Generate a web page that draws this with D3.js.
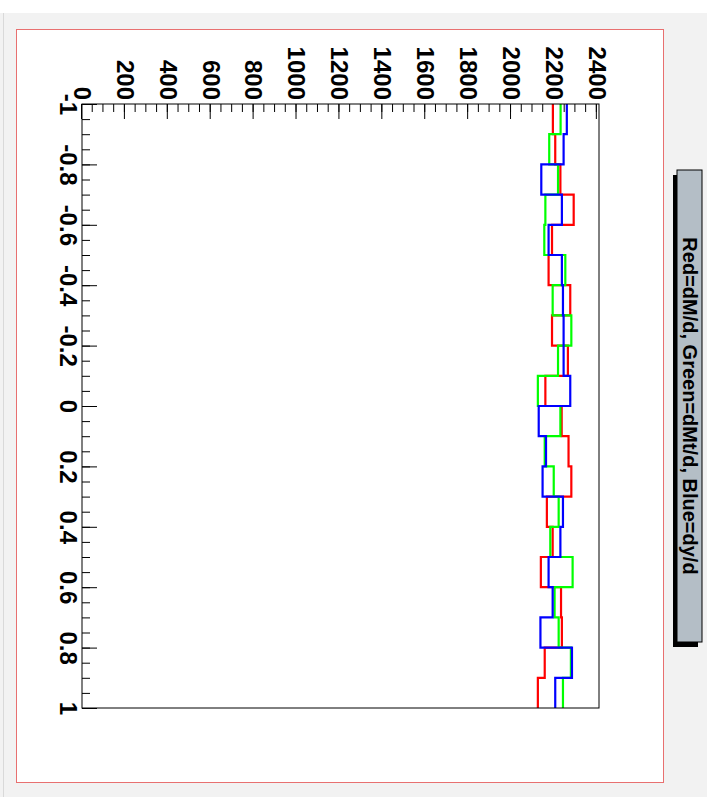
<!DOCTYPE html>
<html>
<head>
<meta charset="utf-8">
<script src="https://d3js.org/d3.v7.min.js"></script>
<style>
  body { margin: 0; background: #fff; }
  svg { display: block; font-family: "Liberation Sans", Arial, Helvetica, sans-serif; }
  .axis text { font-size: 24px; font-weight: bold; fill: #000; }
  .axis line { stroke: #000; }
</style>
</head>
<body>
<script>
  // data: 20 bins from -1 to 1
  var binLow = [-1, -0.9, -0.8, -0.7, -0.6, -0.5, -0.4, -0.3, -0.2, -0.1,
                0, 0.1, 0.2, 0.3, 0.4, 0.5, 0.6, 0.7, 0.8, 0.9];
  var binHigh = 1;
  var redVals   = [2195, 2206, 2230, 2292, 2191, 2175, 2276, 2191, 2265, 2160,
                   2236, 2268, 2281, 2167, 2194, 2139, 2233, 2237, 2157, 2125];
  var greenVals = [2231, 2178, 2219, 2160, 2155, 2253, 2194, 2281, 2219, 2125,
                   2230, 2157, 2199, 2222, 2183, 2287, 2203, 2222, 2279, 2242];
  var blueVals  = [2260, 2245, 2141, 2237, 2175, 2237, 2242, 2245, 2245, 2276,
                   2129, 2163, 2147, 2242, 2230, 2175, 2194, 2137, 2284, 2206];
  var xTicks = [-1, -0.8, -0.6, -0.4, -0.2, 0, 0.2, 0.4, 0.6, 0.8, 1];
  var yTicks = [0, 200, 400, 600, 800, 1000, 1200, 1400, 1600, 1800, 2000, 2200, 2400];
  var yMax = 2410;
  var title = "Red=dM/d, Green=dMt/d, Blue=dy/d";

  var width = 707, height = 797;
  var svg = d3.select('body').append('svg')
    .attr('width', width)
    .attr('height', height);

  // window / canvas background
  svg.append('rect')
    .attr('x', 0).attr('y', 13)
    .attr('width', width).attr('height', height - 13)
    .attr('fill', '#f2f2f2');
  svg.append('line')
    .attr('x1', 3.5).attr('x2', 3.5).attr('y1', 13).attr('y2', height)
    .attr('stroke', '#d9d9d9');
  // pad
  svg.append('rect')
    .attr('x', 16.5).attr('y', 29.5)
    .attr('width', 647).attr('height', 753)
    .attr('fill', '#fff')
    .attr('stroke', '#e87070');

  // the ROOT canvas is turned 90 degrees clockwise
  var g = svg.append('g').attr('transform', 'translate(' + width + ',0) rotate(90)');

  var frame = {left: 104, right: 708, top: 108, bottom: 625};
  var x = d3.scaleLinear().domain([-1, 1]).range([frame.left, frame.right]);
  var y = d3.scaleLinear().domain([0, yMax]).range([frame.bottom, frame.top]);

  // axes (ticks point inward)
  var xMinor = d3.range(0, 41).map(i => -1 + i * 0.05);
  g.append('g').attr('class', 'axis')
    .attr('transform', 'translate(0,' + frame.bottom + ')')
    .call(d3.axisBottom(x).tickValues(xMinor).tickSizeInner(-8).tickSizeOuter(0).tickFormat(''));
  g.append('g').attr('class', 'axis')
    .attr('transform', 'translate(0,' + frame.bottom + ')')
    .call(d3.axisBottom(x).tickValues(xTicks).tickSizeInner(-15).tickSizeOuter(0)
      .tickPadding(5).tickFormat(d => String(+d.toFixed(1))));

  var yMinor = d3.range(0, 49).map(i => i * 50);
  g.append('g').attr('class', 'axis')
    .attr('transform', 'translate(' + frame.left + ',0)')
    .call(d3.axisLeft(y).tickValues(yMinor).tickSizeInner(-8).tickSizeOuter(0).tickFormat(''));
  g.append('g').attr('class', 'axis')
    .attr('transform', 'translate(' + frame.left + ',0)')
    .call(d3.axisLeft(y).tickValues(yTicks).tickSizeInner(-15).tickSizeOuter(0)
      .tickPadding(4).tickFormat(d => String(d)));
  g.selectAll('.axis .domain').remove();

  // histograms
  var line = d3.line()
    .x(d => x(d[0]))
    .y(d => y(d[1]))
    .curve(d3.curveStepAfter);

  function histPoints(vals) {
    var pts = binLow.map((b, i) => [b, vals[i]]);
    pts.push([binHigh, vals[vals.length - 1]]);
    return pts;
  }

  [[redVals, '#ff0000'], [greenVals, '#00ff00'], [blueVals, '#0000ff']].forEach(function(s) {
    g.append('path')
      .attr('d', line(histPoints(s[0])))
      .attr('fill', 'none')
      .attr('stroke', s[1])
      .attr('stroke-width', 2.2);
  });

  // frame
  g.append('rect')
    .attr('x', frame.left).attr('y', frame.top)
    .attr('width', frame.right - frame.left)
    .attr('height', frame.bottom - frame.top)
    .attr('fill', 'none')
    .attr('stroke', '#000');

  // title box with shadow
  var tb = {x: 170, y: 5, w: 472, h: 25};
  g.append('rect')
    .attr('x', tb.x + 5).attr('y', tb.y + 4)
    .attr('width', tb.w).attr('height', tb.h)
    .attr('fill', '#000');
  g.append('rect')
    .attr('x', tb.x).attr('y', tb.y)
    .attr('width', tb.w).attr('height', tb.h)
    .attr('fill', '#b4bec6')
    .attr('stroke', '#000');
  g.append('text')
    .attr('x', tb.x + tb.w / 2)
    .attr('y', tb.y + tb.h / 2)
    .attr('text-anchor', 'middle')
    .attr('dominant-baseline', 'central')
    .attr('font-size', 20)
    .attr('font-weight', 'bold')
    .text(title);
</script>
</body>
</html>
